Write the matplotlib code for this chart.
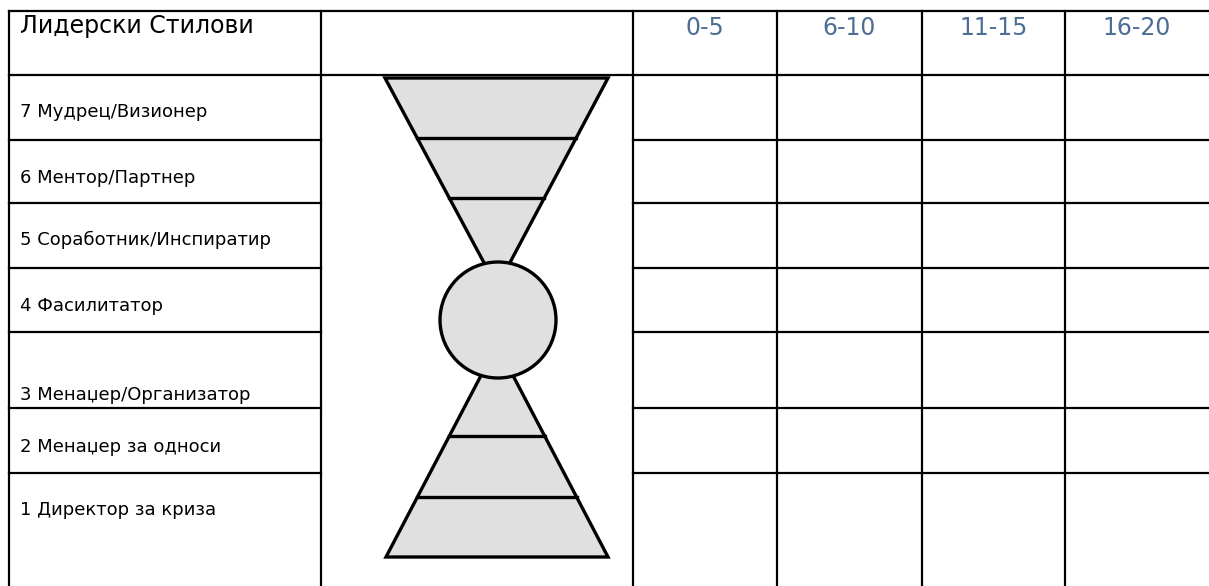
import matplotlib.pyplot as plt
from matplotlib.patches import Polygon, Circle

# data
title = "Лидерски Стилови"
ranges = ["0-5", "6-10", "11-15", "16-20"]
styles = ["7 Мудрец/Визионер", "6 Ментор/Партнер", "5 Соработник/Инспиратир",
          "4 Фасилитатор", "3 Менаџер/Организатор", "2 Менаџер за односи",
          "1 Директор за криза"]
label_y = [112, 178, 240, 306, 395, 447, 510]

# table layout (pixels)
col_x = [9, 321, 633, 777, 922, 1065, 1209]
row_y = [11, 75, 140, 203, 268, 332, 408, 473, 586]

W, H = 1209, 586
fig = plt.figure(figsize=(W / 100, H / 100), dpi=100)
ax = fig.add_axes([0, 0, 1, 1])
ax.set_xlim(0, W)
ax.set_ylim(H, 0)
ax.axis("off")

lw = 1.6
# outer top and header line
ax.plot([col_x[0], W], [row_y[0], row_y[0]], color="black", lw=lw)
ax.plot([col_x[0], W], [row_y[1], row_y[1]], color="black", lw=lw)
# vertical lines
for x in col_x[:-1]:
    ax.plot([x, x], [row_y[0], H], color="black", lw=lw)
# row lines in label column and score columns (not the middle column)
for y in row_y[2:-1]:
    ax.plot([col_x[0], col_x[1]], [y, y], color="black", lw=lw)
    ax.plot([col_x[2], W], [y, y], color="black", lw=lw)

# header text
ax.text(20, 26, title, fontsize=17, va="center", ha="left")
for i, r in enumerate(ranges):
    cx = (col_x[i + 2] + col_x[i + 3]) / 2
    ax.text(cx, 28, r, fontsize=17, va="center", ha="center", color="#4d6d95")

for s, y in zip(styles, label_y):
    ax.text(20, y, s, fontsize=13, va="center", ha="left")

# hourglass figure
fill = "#e0e0e0"
slw = 2.4
top_tri = [(385, 78), (608, 78), (497, 287)]
bot_tri = [(386, 557), (608, 557), (497, 345)]
ax.add_patch(Polygon(top_tri, closed=True, fc=fill, ec="black", lw=slw, joinstyle="miter"))
ax.add_patch(Polygon(bot_tri, closed=True, fc=fill, ec="black", lw=slw, joinstyle="miter"))


def span(tri, y):
    (x0, y0), (x1, _), (xa, ya) = tri
    t = (y - y0) / (ya - y0)
    return x0 + (xa - x0) * t, x1 + (xa - x1) * t


for y in [138, 198]:
    a, b = span(top_tri, y)
    ax.plot([a, b], [y, y], color="black", lw=slw)
for y in [436, 497]:
    a, b = span(bot_tri, y)
    ax.plot([a, b], [y, y], color="black", lw=slw)

ax.add_patch(Circle((498, 320), 58, fc=fill, ec="black", lw=slw, zorder=5))

fig.savefig("out.png", dpi=100)
